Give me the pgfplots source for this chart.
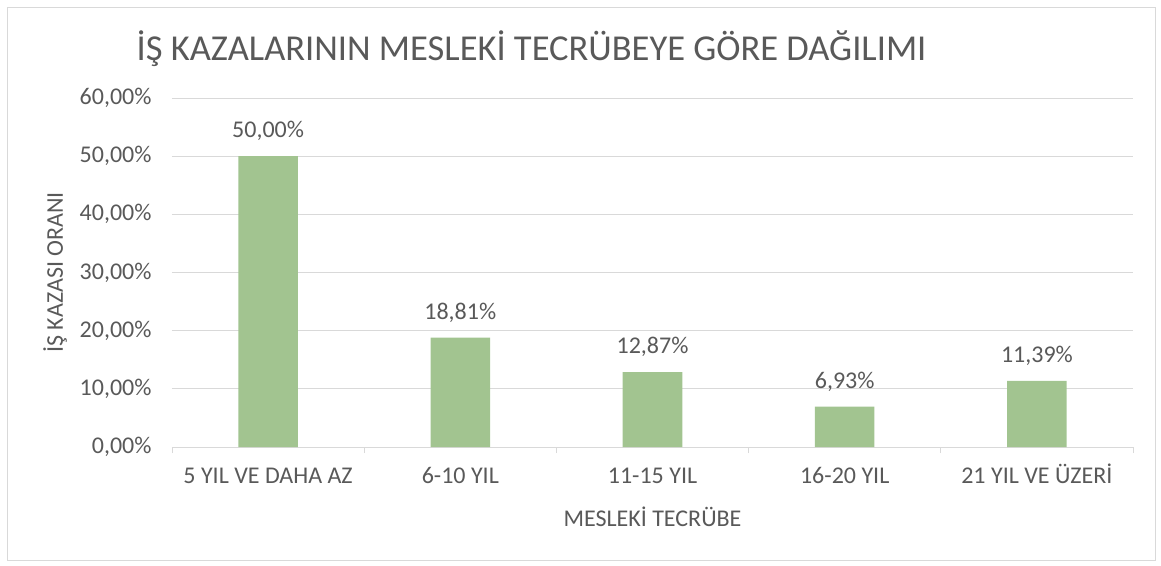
\documentclass[border=0pt]{standalone}
\usepackage{pgfplots}
\pgfplotsset{compat=1.18}
\usepackage{fontspec}
\setmainfont{Carlito}
\definecolor{bargreen}{HTML}{A2C490}
\definecolor{txt}{HTML}{595959}
\definecolor{gridc}{HTML}{D9D9D9}
\begin{document}
\begin{tikzpicture}
\useasboundingbox (-172pt,-118pt) rectangle (989pt,447pt);
\draw[gridc, line width=0.8pt] (-165pt,-113pt) rectangle (983pt,440pt);
\begin{axis}[
  at={(0pt,0pt)}, anchor=south west,
  scale only axis, width=961pt, height=349pt,
  ymin=0, ymax=60, xmin=-0.5, xmax=4.5,
  axis x line*=bottom, axis y line*=left,
  y axis line style={draw=none},
  x axis line style={draw=gridc, line width=0.8pt},
  ymajorgrids, grid style={draw=gridc, line width=0.8pt},
  ytick={0,10,20,30,40,50,60},
  ytick style={draw=none},
  xtick={0,1,2,3,4},
  xticklabels={5 YIL VE DAHA AZ, 6-10 YIL, 11-15 YIL, 16-20 YIL, 21 YIL VE ÜZERİ},
  major x tick style={draw=none},
  minor xtick={-0.5,0.5,1.5,2.5,3.5,4.5},
  minor x tick style={draw=gridc, line width=0.8pt},
  minor tick length=6pt, tick align=outside,
  /pgf/number format/assume math mode=true,
  yticklabel={\pgfmathprintnumber[fixed,fixed zerofill,precision=2,use comma]{\tick}\%},
  ticklabel style={font=\fontsize{24}{29}\selectfont, text=txt},
  yticklabel style={xshift=-12.7pt},
  xticklabel style={yshift=-13pt, text height=15.5pt, text depth=0pt},
  xlabel={MESLEKİ TECRÜBE},
  ylabel={İŞ KAZASI ORANI},
  every axis x label/.style={at={(axis description cs:0.5,0)}, yshift=-70pt, anchor=center, font=\fontsize{24}{29}\selectfont, text=txt},
  every axis y label/.style={at={(axis description cs:-0.1217,0.5)}, rotate=90, anchor=center, font=\fontsize{24}{29}\selectfont, text=txt},
  ybar, bar width=0.31,
  nodes near coords={\pgfmathprintnumber[fixed,fixed zerofill,precision=2,use comma]{\pgfplotspointmeta}\%},
  every node near coord/.style={anchor=center, yshift=25pt, font=\fontsize{24}{29}\selectfont, text=txt},
  clip=false,
]
\addplot[fill=bargreen, draw=none] coordinates {(0,50.00) (1,18.81) (2,12.87) (3,6.93) (4,11.39)};
\end{axis}
\node[text=txt, font=\fontsize{36.5}{44}\selectfont] at (359.5pt,398pt) {İŞ KAZALARININ MESLEKİ TECRÜBEYE GÖRE DAĞILIMI};
\end{tikzpicture}
\end{document}
